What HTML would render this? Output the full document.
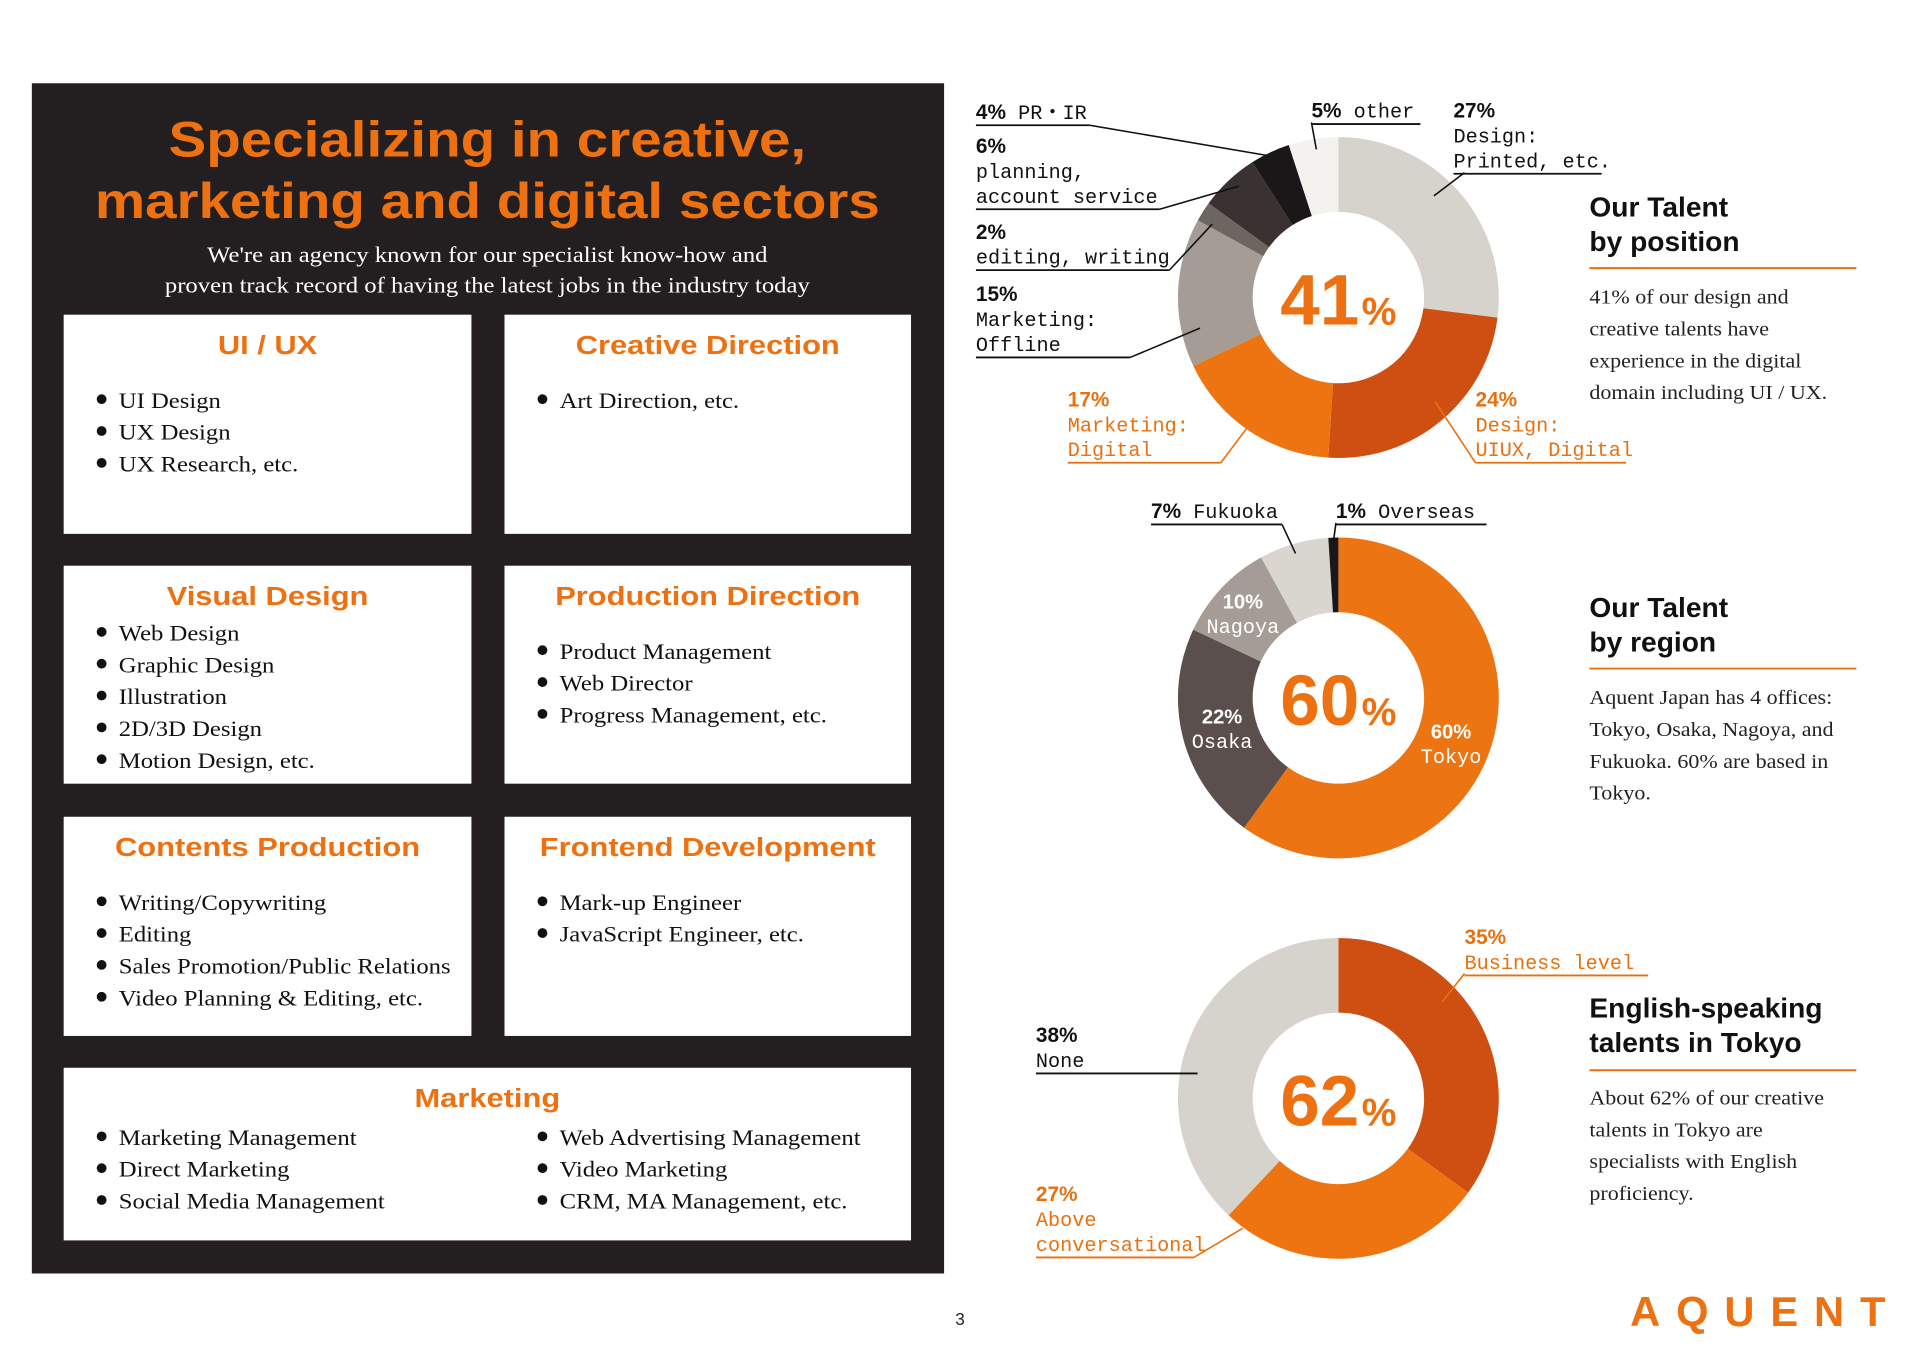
<!DOCTYPE html>
<html><head><meta charset="utf-8"><style>
html,body{margin:0;padding:0;background:#fff;}
body{width:1920px;height:1358px;overflow:hidden;position:relative;}
#root{position:absolute;left:0;top:0;width:1556px;height:1100px;transform:scale(1.2245);transform-origin:0 0;}
svg{position:absolute;left:0;top:0;}
.ttl{font-family:"Liberation Sans",sans-serif;font-weight:bold;fill:#ee7111;}
.ser{font-family:"Liberation Serif",serif;}
.mono{font-family:"Liberation Mono",monospace;font-size:16.5px;}
.b{font-family:"Liberation Sans",sans-serif;font-weight:bold;}
</style></head><body>
<div id="root">
<svg id="s" width="1556" height="1100" viewBox="0 0 1556 1100">
<rect x="26" y="68" width="745" height="972" fill="#231f20"/>
<text class="ttl st113" x="398" y="128" font-size="41" text-anchor="middle">Specializing in creative,</text>
<text class="ttl st113" x="398" y="178" font-size="41" text-anchor="middle">marketing and digital sectors</text>
<text class="ser st109" x="398" y="214" font-size="18.5" fill="#fff" text-anchor="middle">We're an agency known for our specialist know-how and</text>
<text class="ser st109" x="398" y="239" font-size="18.5" fill="#fff" text-anchor="middle">proven track record of having the latest jobs in the industry today</text>
<g id="boxes"></g>
<g id="charts"></g>
<g id="right-text"></g>
<text x="784" y="1082" font-family="Liberation Sans,sans-serif" font-size="14" text-anchor="middle" fill="#222">3</text>
<text x="1442" y="1083" font-family="Liberation Sans,sans-serif" font-weight="bold" font-size="34" letter-spacing="13" text-anchor="middle" fill="#ee7111">AQUENT</text>
</svg>
</div>
<script>
const NS='http://www.w3.org/2000/svg';
function mk(p,tag,attrs,txt){const e=document.createElementNS(NS,tag);for(const k in attrs)e.setAttribute(k,attrs[k]);if(txt!=null)e.textContent=txt;p.appendChild(e);return e;}

const boxes=[
 {t:'UI / UX',x:52,y:257,w:333,h:179,items:[['UI Design','UX Design','UX Research, etc.']],iy:327},
 {t:'Creative Direction',x:412,y:257,w:332,h:179,items:[['Art Direction, etc.']],iy:327},
 {t:'Visual Design',x:52,y:462,w:333,h:178,items:[['Web Design','Graphic Design','Illustration','2D/3D Design','Motion Design, etc.']],iy:517},
 {t:'Production Direction',x:412,y:462,w:332,h:178,items:[['Product Management','Web Director','Progress Management, etc.']],iy:532},
 {t:'Contents Production',x:52,y:667,w:333,h:179,items:[['Writing/Copywriting','Editing','Sales Promotion/Public Relations','Video Planning & Editing, etc.']],iy:737},
 {t:'Frontend Development',x:412,y:667,w:332,h:179,items:[['Mark-up Engineer','JavaScript Engineer, etc.']],iy:737},
 {t:'Marketing',x:52,y:872,w:692,h:141,items:[['Marketing Management','Direct Marketing','Social Media Management'],['Web Advertising Management','Video Marketing','CRM, MA Management, etc.']],iy:929}
];
const bg=document.getElementById('boxes');
boxes.forEach(b=>{
 const g=mk(bg,'g',{});
 
 
 mk(g,'rect',{x:b.x,y:b.y,width:b.w,height:b.h,fill:'#fff'});
 const tt=mk(g,'text',{x:b.x+b.w/2,y:b.y+32,'text-anchor':'middle','font-size':21,class:'ttl st12'},b.t);
 
 
 b.items.forEach((col,ci)=>{
  const bx=ci===0?b.x+26:412+26;
  col.forEach((it,i)=>{
   const y=b.iy+i*26;
   mk(g,'circle',{cx:bx+5,cy:y-1,r:4,fill:'#111'});
   const t=mk(g,'text',{x:bx+19,y:y+6,'font-size':18.5,fill:'#111',class:'ser st109'},it);
   
   
  });
 });
});

const posLabels=['Design: Printed','Design: UIUX, Digital','Marketing: Digital','Marketing: Offline','editing, writing','planning, account service','PR・IR','other'];
const posValues=[27,24,17,15,2,6,4,5];
const posColors=['#d6d2cc','#cf4f13','#ee7412','#a59d95','#6d6560','#3a3230','#1a1718','#f3f2ef'];
const regLabels=['Tokyo','Osaka','Nagoya','Fukuoka','Overseas'];
const regValues=[60,22,10,7,1];
const regColors=['#ed7412','#5a4f4d','#a59d95','#d9d5cf','#1a1718'];
const engLabels=['Business level','Above conversational','None'];
const engValues=[35,27,38];
const engColors=['#cf4f13','#ee7412','#d6d2cc'];
const centerValues=['41','60','62'];

const cg=document.getElementById('charts');
function angle(frac){return frac*2*Math.PI-Math.PI/2;}
function donut(name,cx,cy,R,r,vals,cols,labels,center){
 const g=mk(cg,'g',{});
 
 
 const tot=vals.reduce((a,b)=>a+b,0);let acc=0;
 vals.forEach((v,i)=>{
  const a0=angle(acc/tot),a1=angle((acc+v)/tot);acc+=v;
  const lg=(a1-a0)>Math.PI?1:0;
  const d=`M${cx+R*Math.cos(a0)},${cy+R*Math.sin(a0)} A${R},${R} 0 ${lg} 1 ${cx+R*Math.cos(a1)},${cy+R*Math.sin(a1)} L${cx+r*Math.cos(a1)},${cy+r*Math.sin(a1)} A${r},${r} 0 ${lg} 0 ${cx+r*Math.cos(a0)},${cy+r*Math.sin(a0)} Z`;
  const p=mk(g,'path',{d:d,fill:cols[i]});
  
  
 });
 const t=mk(g,'text',{x:cx,y:cy+22,'text-anchor':'middle',class:'b',fill:'#ee7111','font-size':58});
 
 
 mk(t,'tspan',{},center);mk(t,'tspan',{'font-size':32,dx:2},'%');
 return g;
}
donut('position-donut',1093,243,131,70,posValues,posColors,posLabels,centerValues[0]);
const g2=donut('region-donut',1093,570,131,70,regValues,regColors,regLabels,centerValues[1]);
donut('english-donut',1093,897,131,70,engValues,engColors,engLabels,centerValues[2]);

[[1185,597,regValues[0]+'%','Tokyo'],[998,585,regValues[1]+'%','Osaka'],[1015,491,regValues[2]+'%','Nagoya']].forEach(l=>{
 const a=mk(g2,'text',{x:l[0],y:l[1]+6,'text-anchor':'middle',class:'b','font-size':16.5,fill:'#fff'},l[2]);
 
 
 const b=mk(g2,'text',{x:l[0],y:l[1]+26,'text-anchor':'middle',class:'mono',fill:'#fff'},l[3]);
 
 
});

const DK='#111',OR='#e8700f';
const callouts=[
 [797,91,[[posValues[6]+'%',' PR・IR']],DK,890,[1035,127]],
 [797,119,[[posValues[5]+'%'],['planning,'],['account service']],DK,947,[1012,152]],
 [797,189,[[posValues[4]+'%'],['editing, writing']],DK,955,[990,183]],
 [797,240,[[posValues[3]+'%'],['Marketing:'],['Offline']],DK,923,[980,268]],
 [1071,90,[[posValues[7]+'%',' other']],DK,1160,null],
 [1187,90,[[posValues[0]+'%'],['Design:'],['Printed, etc.']],DK,1308,null],
 [872,326,[[posValues[2]+'%'],['Marketing:'],['Digital']],OR,997,[1018,350]],
 [1205,326,[[posValues[1]+'%'],['Design:'],['UIUX, Digital']],OR,1328,null],
 [940,417,[[regValues[3]+'%',' Fukuoka']],DK,1047,[1058,452]],
 [1091,417,[[regValues[4]+'%',' Overseas']],DK,1214,null],
 [1196,765,[[engValues[0]+'%'],['Business level']],OR,1346,null],
 [846,845,[[engValues[2]+'%'],['None']],DK,978,null],
 [846,975,[[engValues[1]+'%'],['Above'],['conversational']],OR,975,[1015,1003]]
];
callouts.forEach((c,ci)=>{
 const g=mk(cg,'g',{});
 
 
 c[2].forEach((ln,i)=>{
  const t=mk(g,'text',{x:c[0],y:c[1]+6+i*20.3,fill:c[3]});
  if(i===0){mk(t,'tspan',{class:'b','font-size':17},ln[0]);if(ln[1])mk(t,'tspan',{class:'mono'},ln[1]);}
  else{t.setAttribute('class','mono');t.textContent=ln[0];}
 });
 const uy=c[1]+c[2].length*20.3-9;
 mk(g,'line',{x1:c[0],y1:uy,x2:c[4],y2:uy,stroke:c[3],'stroke-width':1.5});
 if(c[5])mk(g,'line',{x1:c[4],y1:uy,x2:c[5][0],y2:c[5][1],stroke:c[3],'stroke-width':1.3});
});
[[1071,100,1075,122,DK],[1196,141,1171,160,DK],[1205,378,1172,328,OR],[1091,427,1089,442,DK],[1196,795,1178,818,OR]].forEach(l=>{
 const e=mk(cg,'line',{x1:l[0],y1:l[1],x2:l[2],y2:l[3],stroke:l[4],'stroke-width':1.3});
 
 
});

const rt=document.getElementById('right-text');
const blocks=[
 [169,['Our Talent','by position'],219,243,['41% of our design and','creative talents have','experience in the digital','domain including UI / UX.']],
 [496,['Our Talent','by region'],546,570,['Aquent Japan has 4 offices:','Tokyo, Osaka, Nagoya, and','Fukuoka. 60% are based in','Tokyo.']],
 [823,['English-speaking','talents in Tokyo'],874,897,['About 62% of our creative','talents in Tokyo are','specialists with English','proficiency.']]
];
blocks.forEach(b=>{
 const g=mk(rt,'g',{});
 
 
 b[1].forEach((l,i)=>mk(g,'text',{x:1298,y:b[0]+8+i*28,class:'b','font-size':23,fill:'#111'},l));
 mk(g,'line',{x1:1298,y1:b[2],x2:1516,y2:b[2],stroke:'#e8700f','stroke-width':1.6});
 b[4].forEach((l,i)=>mk(g,'text',{x:1298,y:b[3]+5+i*26,class:'ser st109','font-size':16.5,fill:'#222'},l));
});

function stretch(sel,f){document.querySelectorAll(sel).forEach(el=>{const w=el.getComputedTextLength();if(w>0){el.setAttribute('textLength',(w*f).toFixed(1));el.setAttribute('lengthAdjust','spacingAndGlyphs');}});}
stretch('.st113',1.126);
stretch('.st12',1.2);
stretch('.st109',1.09);
</script>
</body></html>
